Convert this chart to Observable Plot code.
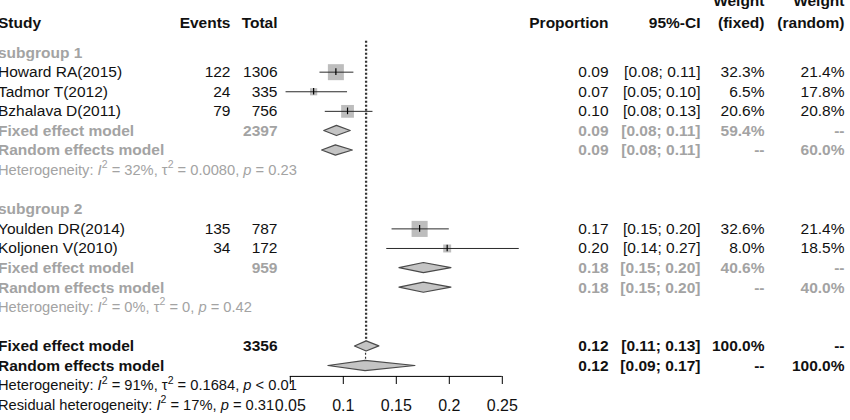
<!DOCTYPE html>
<html>
<head>
<meta charset="utf-8">
<script src="https://cdn.jsdelivr.net/npm/d3@7"></script>
<script src="https://cdn.jsdelivr.net/npm/@observablehq/plot@0.6"></script>
<style>
  html, body { margin: 0; padding: 0; background: #fff; overflow: hidden; }
  #chart svg { display: block; overflow: visible; }
</style>
</head>
<body>
<div id="chart"></div>
<script>
// ---------------- data ----------------
const studies   = ["Howard RA(2015)", "Tadmor T(2012)", "Bzhalava D(2011)", "Youlden DR(2014)", "Koljonen V(2010)"];
const studyRows = [3, 4, 5, 11, 12];
const events    = [122, 24, 79, 135, 34];
const totals    = [1306, 335, 756, 787, 172];
const props     = [0.093, 0.072, 0.104, 0.172, 0.198];
const lowers    = [0.078, 0.046, 0.083, 0.146, 0.141];
const uppers    = [0.110, 0.104, 0.128, 0.200, 0.266];
const wFixed    = [32.3, 6.5, 20.6, 32.6, 8.0];
const wRandom   = [21.4, 17.8, 20.8, 21.4, 18.5];

const summaryLabels = ["Fixed effect model", "Random effects model", "Fixed effect model", "Random effects model", "Fixed effect model", "Random effects model"];
const summaryRows   = [6, 7, 13, 14, 17, 18];
const summaryTotals = [2397, null, 959, null, 3356, null];
const summaryProps  = [0.094, 0.093, 0.176, 0.176, 0.122, 0.121];
const summaryLowers = [0.082, 0.080, 0.153, 0.153, 0.111, 0.086];
const summaryUppers = [0.107, 0.109, 0.202, 0.202, 0.134, 0.168];
const summaryWFixed = [59.4, null, 40.6, null, 100.0, null];
const summaryWRand  = [null, 60.0, null, 40.0, null, 100.0];
const summaryKind   = ["sub", "sub", "sub", "sub", "overall", "overall"];

const subgroupLabels = ["subgroup 1", "subgroup 2"];
const subgroupRows   = [2, 10];

const hetTexts = [
  "Heterogeneity: I² = 32%, τ² = 0.0080, p = 0.23",
  "Heterogeneity: I² = 0%, τ² = 0, p = 0.42",
  "Heterogeneity: I² = 91%, τ² = 0.1684, p < 0.01",
  "Residual heterogeneity: I² = 17%, p = 0.31"
];
const hetRows  = [8, 15, 19, 20];
const hetKind  = ["sub", "sub", "overall", "overall"];

const headerLabels = ["Study", "Events", "Total", "Proportion", "95%-CI", "(fixed)", "(random)"];
const headerCols   = ["study", "events", "total", "prop", "ci", "wf", "wr"];
const header2Labels = ["Weight", "Weight"];
const header2Cols   = ["wf", "wr"];

const xTicks = [0.05, 0.1, 0.15, 0.2, 0.25];

// ---------------- layout / style ----------------
const FONT = "'Liberation Sans', Arial, Helvetica, sans-serif";
const FS = 15.5;
const HET_FS = 14.7;
const BLACK = "#111";
const GRAY = "#a3a3a3";
const colX = {study: -2.5, events: 230, total: 277, prop: 608, ci: 700, wf: 764, wr: 844};
const headerRow = 0.47, header2Row = -0.62;
const axisRow = 18.53;
const refTop = 1.42;
const diamondHalf = 0.26;
const tickHalf = 0.17;

// ---------------- tables ----------------
const f2 = d3.format(".2f");
const pct = w => w == null ? "--" : w.toFixed(1) + "%";

const studyTable = studies.map((s, i) => ({
  row: studyRows[i], label: s, events: String(events[i]), total: String(totals[i]),
  prop: props[i], lo: lowers[i], hi: uppers[i], wf: wFixed[i], wr: wRandom[i], kind: "study"
}));
const summaryTable = summaryLabels.map((s, i) => ({
  row: summaryRows[i], label: s, events: "", total: summaryTotals[i] == null ? "" : String(summaryTotals[i]),
  prop: summaryProps[i], lo: summaryLowers[i], hi: summaryUppers[i],
  wf: summaryWFixed[i], wr: summaryWRand[i], kind: summaryKind[i]
}));

// diamond polygons as areaX series
const diamonds = summaryTable.flatMap((d, i) => [
  {id: i, y: d.row - diamondHalf, x1: d.prop, x2: d.prop},
  {id: i, y: d.row, x1: d.lo, x2: d.hi},
  {id: i, y: d.row + diamondHalf, x1: d.prop, x2: d.prop}
]);

// reference lines at overall fixed and random estimates
const refLines = [
  {x: summaryProps[4], y2: summaryRows[4] - 0.25},
  {x: summaryProps[5], y2: summaryRows[5] - 0.25}
];

function columnTexts(data, color, weight) {
  const common = {y: "row", frameAnchor: "left", fill: color, fontWeight: weight, fontSize: FS};
  return [
    Plot.text(data, {...common, text: "label", dx: colX.study, textAnchor: "start"}),
    Plot.text(data, {...common, text: "events", dx: colX.events, textAnchor: "end"}),
    Plot.text(data, {...common, text: "total", dx: colX.total, textAnchor: "end"}),
    Plot.text(data, {...common, text: d => f2(d.prop), dx: colX.prop, textAnchor: "end"}),
    Plot.text(data, {...common, text: d => `[${f2(d.lo)}; ${f2(d.hi)}]`, dx: colX.ci, textAnchor: "end"}),
    Plot.text(data, {...common, text: d => pct(d.wf), dx: colX.wf, textAnchor: "end"}),
    Plot.text(data, {...common, text: d => pct(d.wr), dx: colX.wr, textAnchor: "end"})
  ];
}

const headers = headerLabels.map((t, i) => ({t, col: headerCols[i], row: headerRow}))
  .concat(header2Labels.map((t, i) => ({t, col: header2Cols[i], row: header2Row})));
const hets = hetTexts.map((t, i) => ({t, row: hetRows[i], kind: hetKind[i]}));
const subs = subgroupLabels.map((t, i) => ({t, row: subgroupRows[i]}));

const chart = Plot.plot({
  width: 850,
  height: 420,
  marginTop: 0,
  marginLeft: 0,
  marginRight: 0,
  marginBottom: 44,
  style: {fontFamily: FONT, fontSize: FS + "px", background: "#fff", color: BLACK},
  x: {domain: [0.05, 0.25], range: [289.8, 501.8]},
  y: {domain: [0, 20], range: [12.9, 404.7]},
  r: {type: "sqrt", domain: [0, 32.6], range: [0, 9.07]},
  marks: [
    // headers
    ...headers.map(h => Plot.text([h], {
      y: "row", text: "t", frameAnchor: "left", dx: colX[h.col],
      textAnchor: h.col === "study" ? "start" : "end", fontWeight: "bold", fill: BLACK, fontSize: FS
    })),
    // subgroup labels
    Plot.text(subs, {y: "row", text: "t", frameAnchor: "left", dx: colX.study, textAnchor: "start", fontWeight: "bold", fill: GRAY, fontSize: FS}),
    // row texts
    ...columnTexts(studyTable, BLACK, "normal"),
    ...columnTexts(summaryTable.filter(d => d.kind === "sub"), GRAY, "bold"),
    ...columnTexts(summaryTable.filter(d => d.kind === "overall"), BLACK, "bold"),
    // heterogeneity
    Plot.text(hets.filter(d => d.kind === "sub"), {y: "row", text: "t", frameAnchor: "left", dx: colX.study, textAnchor: "start", fill: GRAY, fontSize: HET_FS, className: "het"}),
    Plot.text(hets.filter(d => d.kind === "overall"), {y: "row", text: "t", frameAnchor: "left", dx: colX.study, textAnchor: "start", fill: BLACK, fontSize: HET_FS, className: "het"}),
    // reference dotted lines
    Plot.ruleX(refLines, {x: "x", y1: () => refTop, y2: "y2", stroke: "#333", strokeWidth: 1.2, strokeDasharray: "2,2"}),
    // study squares
    Plot.dot(studyTable, {x: "prop", y: "row", r: "wf", symbol: "square", fill: "#bdbdbd", stroke: "none"}),
    // CI lines
    Plot.ruleY(studyTable, {y: "row", x1: "lo", x2: "hi", stroke: "#2b2b2b", strokeWidth: 1}),
    // point ticks
    Plot.ruleX(studyTable, {x: "prop", y1: d => d.row - tickHalf, y2: d => d.row + tickHalf, stroke: "#000", strokeWidth: 1.2}),
    // diamonds
    Plot.areaX(diamonds, {y: "y", x1: "x1", x2: "x2", z: "id", fill: "#c4c4c4", stroke: "#4a4a4a", strokeWidth: 1.2, curve: "linear"}),
    // axis
    Plot.ruleY([axisRow], {x1: xTicks[0], x2: xTicks[xTicks.length - 1], stroke: "#000", strokeWidth: 1}),
    Plot.axisX({ticks: xTicks, tickFormat: d => String(d), tickSize: 8, tickPadding: 15, fontSize: 16, stroke: "#000", fill: BLACK, label: null})
  ]
});

document.getElementById("chart").appendChild(chart);

// rich formatting of heterogeneity statistics (italic I, τ, p; superscript 2)
const NS = "http://www.w3.org/2000/svg";
chart.querySelectorAll(".het text").forEach(el => {
  const s = el.textContent;
  el.textContent = "";
  const re = /(I²|τ²|\bp\b)/g;
  let last = 0, m, shift = 0;
  const add = (str, opts = {}) => {
    if (!str) return;
    const t = document.createElementNS(NS, "tspan");
    t.textContent = str;
    if (opts.italic) t.setAttribute("font-style", "italic");
    if (opts.size) t.setAttribute("font-size", opts.size);
    let dy = 0;
    if (opts.sup) { dy = -6.5 - shift; shift = -6.5; }
    else if (shift !== 0) { dy = -shift; shift = 0; }
    if (dy) t.setAttribute("dy", dy);
    el.appendChild(t);
  };
  while ((m = re.exec(s))) {
    add(s.slice(last, m.index));
    if (m[0] === "p") add("p", {italic: true});
    else {
      add(m[0][0], {italic: m[0][0] === "I"});
      add("2", {sup: true, size: 10.5});
    }
    last = re.lastIndex;
  }
  add(s.slice(last));
});
</script>
</body>
</html>
